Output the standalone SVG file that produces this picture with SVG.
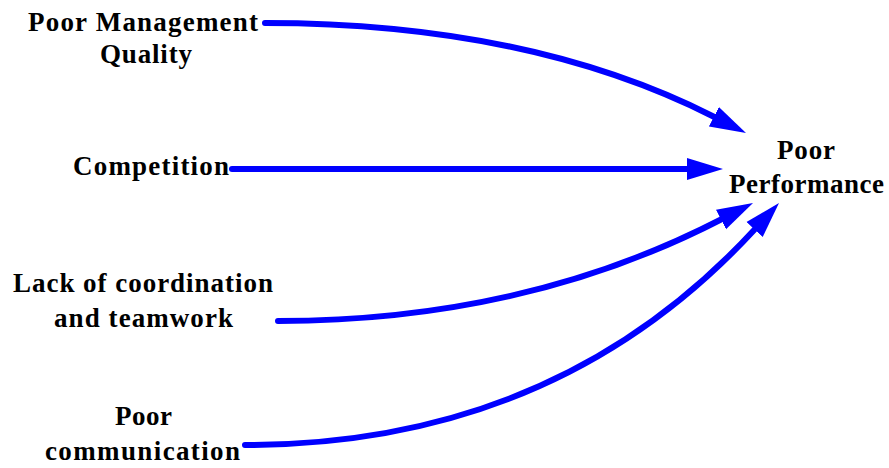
<svg xmlns="http://www.w3.org/2000/svg" width="889" height="468" viewBox="0 0 889 468">
<style>
text{font-family:"Liberation Serif","Times New Roman",serif;font-weight:bold;font-size:27px;fill:#000;text-anchor:middle}
.c{fill:none;stroke:#0000ff;stroke-width:6;stroke-linecap:round;marker-end:url(#ah)}
</style>
<defs>
<marker id="ah" markerUnits="userSpaceOnUse" markerWidth="40" markerHeight="24" viewBox="0 -12 40 24" refX="0" refY="0" orient="auto">
<path d="M0,-11 L36,0 L0,11 Z" fill="#0000ff"/>
</marker>
</defs>
<rect width="889" height="468" fill="#fff"/>
<g id="connectors">
<path class="c" d="M265,23 Q529,23 713.9,116.7"/>
<path class="c" d="M232,169 L687,169"/>
<path class="c" d="M278,321 Q524,321 721,219.5"/>
<path class="c" d="M245,445 Q556,445 754.6,229.5"/>
</g>
<g id="n-management">
<text x="143" y="31" textLength="230" lengthAdjust="spacing">Poor Management</text>
<text x="146" y="63" textLength="92" lengthAdjust="spacing">Quality</text>
</g>
<g id="n-competition">
<text x="151" y="175" textLength="156" lengthAdjust="spacing">Competition</text>
</g>
<g id="n-coordination">
<text x="143" y="292" textLength="260" lengthAdjust="spacing">Lack of coordination</text>
<text x="143.5" y="327" textLength="179" lengthAdjust="spacing">and teamwork</text>
</g>
<g id="n-communication">
<text x="143.5" y="425" textLength="57" lengthAdjust="spacing">Poor</text>
<text x="142.5" y="460" textLength="195" lengthAdjust="spacing">communication</text>
</g>
<g id="n-performance">
<text x="806" y="159" textLength="58" lengthAdjust="spacing">Poor</text>
<text x="806.5" y="193" textLength="155" lengthAdjust="spacing">Performance</text>
</g>
</svg>
